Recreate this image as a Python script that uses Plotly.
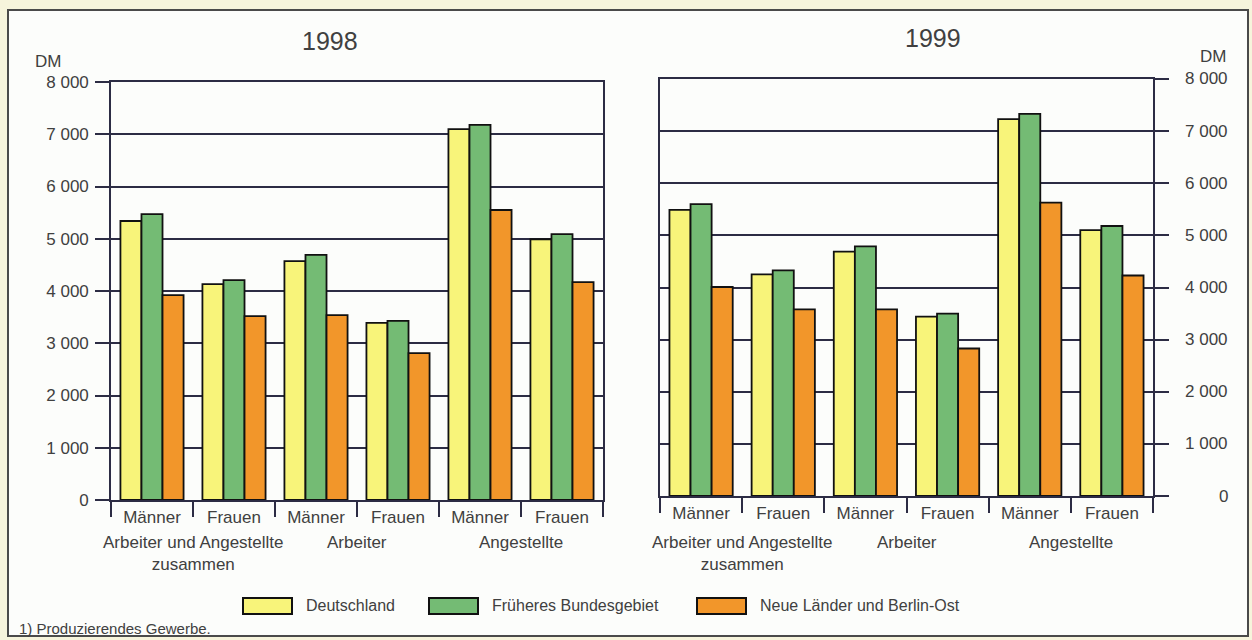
import plotly.graph_objects as go

# ---------------- data ----------------
category_ids = ["AuA_M", "AuA_F", "Arb_M", "Arb_F", "Ang_M", "Ang_F"]
category_labels = ["Männer", "Frauen", "Männer", "Frauen", "Männer", "Frauen"]
group_labels = ["Arbeiter und Angestellte<br>zusammen", "Arbeiter", "Angestellte"]
group_members = [["AuA_M", "AuA_F"], ["Arb_M", "Arb_F"], ["Ang_M", "Ang_F"]]

series_names = ["Deutschland", "Früheres Bundesgebiet", "Neue Länder und Berlin-Ost"]
series_colors = ["#f8f47a", "#74bb74", "#f2962a"]

years = ["1998", "1999"]
values_1998_deutschland = [5340, 4130, 4570, 3390, 7100, 4990]
values_1998_frueheres = [5470, 4210, 4690, 3430, 7180, 5090]
values_1998_neue = [3920, 3520, 3540, 2810, 5550, 4170]
values_1999_deutschland = [5490, 4250, 4690, 3440, 7230, 5100]
values_1999_frueheres = [5600, 4330, 4790, 3500, 7330, 5180]
values_1999_neue = [4010, 3580, 3580, 2830, 5630, 4230]

y_tick_vals = [0, 1000, 2000, 3000, 4000, 5000, 6000, 7000, 8000]
y_tick_text = ["0", "1 000", "2 000", "3 000", "4 000", "5 000", "6 000", "7 000", "8 000"]
unit_label = "DM"
footnote = "1) Produzierendes Gewerbe."

# ---------------- layout constants ----------------
W, H = 1252, 640
FONT = "Liberation Sans"
TXT = "#404040"
LINE = "#2c2c44"

def px_x(p):
    return p / W

def px_y(p):
    return 1 - p / H

fig = go.Figure()

panel_values = [
    [values_1998_deutschland, values_1998_frueheres, values_1998_neue],
    [values_1999_deutschland, values_1999_frueheres, values_1999_neue],
]
for pi, vals in enumerate(panel_values):
    xa = "x" if pi == 0 else "x2"
    ya = "y" if pi == 0 else "y2"
    for si, name in enumerate(series_names):
        fig.add_trace(go.Bar(
            x=category_ids, y=vals[si], name=name,
            marker=dict(color=series_colors[si], line=dict(color="#111111", width=1.8)),
            xaxis=xa, yaxis=ya, showlegend=False,
        ))

n_cat = len(category_ids)
common_x = dict(
    type="category", categoryorder="array", categoryarray=category_ids,
    range=[-0.5, n_cat - 0.5],
    tickmode="array", tickvals=category_ids, ticktext=category_labels,
    tickson="boundaries", ticks="outside", ticklen=15, tickwidth=1.6, tickcolor=LINE,
    showline=True, linecolor=LINE, linewidth=1.6, mirror=True,
    showgrid=False, ticklabelstandoff=1, automargin=False,
    tickfont=dict(family=FONT, size=17, color=TXT), fixedrange=True,
)
common_y = dict(
    range=[0, 8000], tickmode="array", tickvals=y_tick_vals, ticktext=y_tick_text,
    showgrid=True, gridcolor=LINE, gridwidth=1.6,
    ticks="outside", ticklen=14, tickwidth=1.6, tickcolor=LINE,
    showline=True, linecolor=LINE, linewidth=1.6, mirror=True, zeroline=False,
    automargin=False,
    tickfont=dict(family=FONT, size=17, color=TXT), fixedrange=True,
)

fig.update_layout(
    width=W, height=H,
    margin=dict(l=0, r=0, t=0, b=0, pad=0),
    paper_bgcolor="#f6f4dc", plot_bgcolor="rgba(0,0,0,0)",
    barmode="group", bargap=0.23, bargroupgap=0,
    showlegend=False,
    xaxis=dict(domain=[px_x(111), px_x(603)], anchor="y", **common_x),
    yaxis=dict(domain=[px_y(500), px_y(82)], anchor="x", side="left", ticklabelstandoff=3, **common_y),
    xaxis2=dict(domain=[px_x(660), px_x(1153)], anchor="y2", **common_x),
    yaxis2=dict(domain=[px_y(496), px_y(79)], anchor="x2", side="right", showticklabels=False, **common_y),
)

shapes = [dict(type="rect", xref="paper", yref="paper",
               x0=px_x(8), x1=px_x(1248), y0=px_y(636), y1=px_y(10),
               fillcolor="#fcfdfb", line=dict(color="#4a4a4a", width=2), layer="below")]

annotations = []
# titles
for yr, cx, cy in [(years[0], 330, 41), (years[1], 933, 38)]:
    annotations.append(dict(text=yr, x=px_x(cx), y=px_y(cy), xref="paper", yref="paper",
                            showarrow=False, xanchor="center", yanchor="middle",
                            font=dict(family=FONT, size=25, color=TXT)))
# unit labels
annotations.append(dict(text=unit_label, x=px_x(33), y=px_y(61), xref="paper", yref="paper",
                        showarrow=False, xanchor="left", yanchor="middle",
                        font=dict(family=FONT, size=17, color=TXT)))
annotations.append(dict(text=unit_label, x=px_x(1228), y=px_y(56), xref="paper", yref="paper",
                        showarrow=False, xanchor="right", yanchor="middle",
                        font=dict(family=FONT, size=17, color=TXT)))
# right-hand axis labels (right aligned)
for v, t in zip(y_tick_vals, y_tick_text):
    annotations.append(dict(text=t, x=px_x(1230), y=v, xref="paper", yref="y2",
                            showarrow=False, xanchor="right", yanchor="middle",
                            font=dict(family=FONT, size=17, color=TXT)))
# group labels
for xa in ["x", "x2"]:
    for g, members in zip(group_labels, group_members):
        idx = [category_ids.index(m) for m in members]
        annotations.append(dict(text=g, x=sum(idx) / len(idx), y=px_y(531), xref=xa, yref="paper",
                                showarrow=False, xanchor="center", yanchor="top",
                                font=dict(family=FONT, size=17, color=TXT)))
# legend (custom swatches)
legend_x = [243, 429, 697]
for name, col, lx in zip(series_names, series_colors, legend_x):
    shapes.append(dict(type="rect", xref="paper", yref="paper",
                       x0=px_x(lx), x1=px_x(lx + 49), y0=px_y(614), y1=px_y(598),
                       fillcolor=col, line=dict(color="#111111", width=2)))
    annotations.append(dict(text=name, x=px_x(lx + 61), y=px_y(605), xref="paper", yref="paper",
                            showarrow=False, xanchor="left", yanchor="middle",
                            font=dict(family=FONT, size=16, color=TXT)))
# footnote
annotations.append(dict(text=footnote, x=px_x(17), y=px_y(628), xref="paper", yref="paper",
                        showarrow=False, xanchor="left", yanchor="middle",
                        font=dict(family=FONT, size=15, color=TXT)))

fig.update_layout(shapes=shapes, annotations=annotations)
fig.write_html(
    "out.html",
    config={"displayModeBar": False},
    post_script="document.body.style.margin='0';document.body.style.overflow='hidden';",
)
